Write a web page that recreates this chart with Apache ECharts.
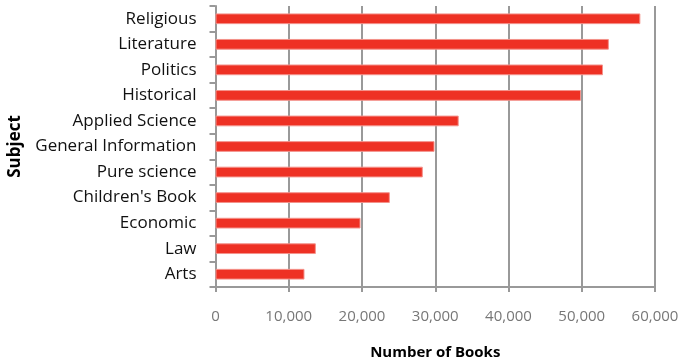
<!DOCTYPE html>
<html><head><meta charset="utf-8">
<script src="https://cdn.jsdelivr.net/npm/echarts@6/dist/echarts.min.js"></script>
<style>html,body{margin:0;padding:0;background:#fff}#c{width:688px;height:362px}</style>
</head><body><div id="c"></div>
<script>
const categories = ["Arts","Law","Economic","Children's Book","Pure science","General Information","Applied Science","Historical","Politics","Literature","Religious"];
const books = [12150,13700,19800,23800,28300,29900,33200,49900,52900,53700,58000];
const xTicks = {min:0, max:60000, interval:10000};

const chart = echarts.init(document.getElementById('c'));
chart.setOption({
  animation:false,
  grid:{left:215.5,right:33,top:6,bottom:75,containLabel:false,outerBoundsMode:'none'},
  xAxis:{type:'value',min:xTicks.min,max:xTicks.max,interval:xTicks.interval,
    name:'Number of Books',nameLocation:'middle',nameGap:58,
    nameTextStyle:{fontFamily:'Open Sans',fontWeight:'bold',fontSize:15,color:'#000'},
    axisLine:{show:true,lineStyle:{color:'#999',width:2}},
    axisTick:{show:true,length:5,lineStyle:{color:'#999',width:2}},
    axisLabel:{fontFamily:'Open Sans',fontSize:15,color:'#777',margin:22,
      formatter:v=>v.toLocaleString('en-US')},
    splitLine:{show:true,lineStyle:{color:'#999',width:2}}},
  yAxis:{type:'category',data:categories,
    name:'Subject',nameLocation:'middle',nameGap:192,
    nameTextStyle:{fontFamily:'Open Sans',fontWeight:'bold',fontSize:17,color:'#000'},
    axisLine:{show:true,lineStyle:{color:'#999',width:2}},
    axisTick:{show:true,length:6,lineStyle:{color:'#999',width:2}},
    axisLabel:{fontFamily:'Open Sans',fontSize:17,color:'#111',margin:19}},
  series:[{type:'bar',data:books,barCategoryGap:'58%',
    itemStyle:{color:'#EE3124',borderColor:'#F4938C',borderWidth:1}}]
});
</script></body></html>
